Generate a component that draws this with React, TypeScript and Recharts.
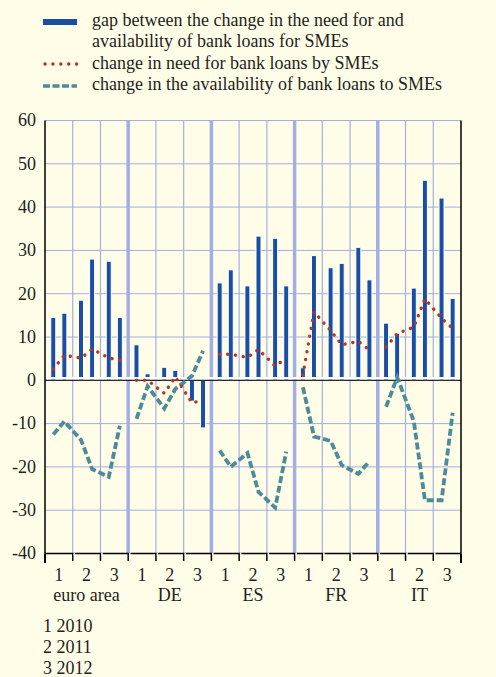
import React from 'react';
import { ComposedChart, Bar, Line, XAxis, YAxis, CartesianGrid, ReferenceLine } from 'recharts';

const groups = ['euro area', 'DE', 'ES', 'FR', 'IT'];
const years = ['1', '2', '3'];
const yTicks = [-40, -30, -20, -10, 0, 10, 20, 30, 40, 50, 60];

// gap between change in need and availability (bars), half-years per group
const gapEuro = [14.5, 15.5, 18.5, 28, 27.5, 14.5];
const gapDE = [8.2, 1.5, 3, 2.3, -4.8, -11];
const gapES = [22.5, 25.5, 21.8, 33.3, 32.8, 21.8];
const gapFR = [2.9, 28.8, 26, 27, 30.7, 23.2];
const gapIT = [13.2, 10.8, 21.3, 46.2, 42.1, 18.9];

// change in need for bank loans by SMEs (dotted)
const needEuro = [2.6, 5.8, 5.1, 7.2, 5.2, 4.6];
const needDE = [0, 0, -3, 0.8, -5.2, -4.6];
const needES = [6, 6, 5.3, 7.1, 3.3, 5.1];
const needFR = [1.2, 15.8, 11.5, 8.2, 9, 7];
const needIT = [7.7, 10.8, 12.3, 18.8, 14.3, 12];

// change in the availability of bank loans to SMEs (dashed)
const availEuro = [-12.5, -9.5, -13.8, -20.5, -22.3, -10.5];
const availDE = [-8.9, -1.4, -6.5, -2, 1, 6.8];
const availES = [-16.2, -20, -16.8, -25.8, -29.4, -16.5];
const availFR = [-1.6, -13, -14, -19.6, -21.6, -18.7];
const availIT = [-6.1, 0.7, -9.5, -27.7, -27.7, -7.5];

const gapAll = [gapEuro, gapDE, gapES, gapFR, gapIT];
const needAll = [needEuro, needDE, needES, needFR, needIT];
const availAll = [availEuro, availDE, availES, availFR, availIT];

// half-year slot within a year (two per year, placed slightly towards the year centre)
const HALF_POS = [0.6, 1.4];

const data: any[] = [];
groups.forEach((_, g) => {
  for (let h = 0; h < 6; h++) {
    const yr = Math.floor(h / 2);
    const row: any = { x: g * 6 + yr * 2 + HALF_POS[h % 2], gap: gapAll[g][h] };
    row['need' + g] = needAll[g][h];
    row['avail' + g] = availAll[g][h];
    data.push(row);
  }
});

const xTicks = Array.from({ length: 31 }, (_, i) => i);
const yearBounds = [2, 4, 6, 8, 10, 12, 14, 16, 18, 20, 22, 24, 26, 28];

const BG = '#FFFDE7';
const GRID = '#A3AEE6';
const BAR = '#1A4EA3';
const RED = '#B2372C';
const TEAL = '#4C8B99';
const TXT = '#231F20';
const FONT = '"Liberation Serif", "Times New Roman", serif';
const FS = 18;
const PLOT_BOTTOM = 553.5;

const LTick = (p: any) => (
  <text x={36} y={p.y} dy={5.8} textAnchor="end" fontFamily={FONT} fontSize={FS} fill={TXT}>
    {p.payload.value}
  </text>
);

const RTick = (p: any) => (
  <text x={p.payload.value < 0 ? 471 : 477} y={p.y} dy={5.8} textAnchor="start" fontFamily={FONT} fontSize={FS} fill={TXT}>
    {p.payload.value}
  </text>
);

const XTick = (p: any) => {
  const v = p.payload.value;
  const x = p.x;
  if (v % 2 === 0) {
    const edge = v === 0 || v === 30;
    return (
      <g>
        <line x1={x} x2={x} y1={PLOT_BOTTOM} y2={edge ? 563 : 561} stroke="#000" strokeWidth={edge ? 2 : 1.5} />
        {!edge && <line x1={x + 1.5} x2={x + 1.5} y1={PLOT_BOTTOM - 1} y2={PLOT_BOTTOM + 1.5} stroke="#fff" strokeWidth={1.5} />}
      </g>
    );
  }
  const yi = ((v - 1) / 2) % 3;
  const g = Math.floor(v / 6);
  return (
    <g>
      <text x={x} y={580.5} textAnchor="middle" fontFamily={FONT} fontSize={FS} fill={TXT}>
        {years[yi]}
      </text>
      {yi === 1 && (
        <text x={x} y={600.5} textAnchor="middle" fontFamily={FONT} fontSize={FS} fill={TXT}>
          {groups[g]}
        </text>
      )}
    </g>
  );
};

const ZeroLine = (p: any) => {
  const y = p.y1 ?? p.y;
  return (
    <g>
      <line x1={p.x1} x2={p.x2} y1={y - 2} y2={y - 2} stroke="#fff" strokeWidth={2.5} />
      <line x1={p.x1} x2={p.x2} y1={y} y2={y} stroke="#000" strokeWidth={1} />
    </g>
  );
};

const legendItems = [
  { kind: 'bar', lines: ['gap between the change in the need for and', 'availability of bank loans for SMEs'] },
  { kind: 'dot', lines: ['change in need for bank loans by SMEs'] },
  { kind: 'dash', lines: ['change in the availability of bank loans to SMEs'] },
];

export default function App() {
  return (
    <div style={{ position: 'absolute', left: 0, top: 0, width: 496, height: 677, background: BG, overflow: 'hidden' }}>
      <svg width={496} height={110} style={{ position: 'absolute', left: 0, top: 0 }}>
        <rect x={43} y={19} width={34} height={6} fill={BAR} />
        <line x1={45} x2={77} y1={64} y2={64} stroke={RED} strokeWidth={3.4} strokeLinecap="round" strokeDasharray="0.1 7.8" />
        <line x1={43} x2={77} y1={86} y2={86} stroke={TEAL} strokeWidth={3.5} strokeDasharray="7 2.5" />
      </svg>
      <div style={{ position: 'absolute', left: 92, top: 10, fontFamily: FONT, fontSize: FS, lineHeight: '21.3px', color: TXT, whiteSpace: 'nowrap' }}>
        {legendItems.map((it, i) => it.lines.map((l, j) => <div key={i + '-' + j}>{l}</div>))}
      </div>
      <div style={{ position: 'absolute', left: 0, top: 0 }}>
        <ComposedChart width={496} height={677} data={data} margin={{ top: 120.5, right: 0, bottom: 63.5, left: 0 }}>
          <CartesianGrid yAxisId="l" vertical={false} stroke={GRID} strokeWidth={1} />
          <XAxis
            dataKey="x"
            type="number"
            domain={[0, 30]}
            ticks={xTicks}
            interval={0}
            tick={<XTick />}
            tickLine={false}
            axisLine={{ stroke: '#000', strokeWidth: 1.5 }}
            height={60}
          />
          <YAxis yAxisId="l" domain={[-40, 60]} ticks={yTicks} width={45} tickLine={false} axisLine={{ stroke: '#000', strokeWidth: 1.5 }} tick={<LTick />} />
          <YAxis yAxisId="r" orientation="right" domain={[-40, 60]} ticks={yTicks} width={35} tickLine={false} axisLine={{ stroke: '#000', strokeWidth: 1.5 }} tick={<RTick />} />
          {yearBounds.map((b) => (
            <ReferenceLine key={'v' + b} yAxisId="l" x={b} stroke={GRID} strokeWidth={b % 6 === 0 ? 3.5 : 1.2} />
          ))}
          <Bar yAxisId="l" dataKey="gap" fill={BAR} stroke="#fff" strokeWidth={1} barSize={5} isAnimationActive={false} />
          <ReferenceLine yAxisId="l" y={0} shape={<ZeroLine />} />
          {groups.map((_, g) => (
            <Line
              key={'a' + g}
              yAxisId="l"
              type="linear"
              dataKey={'avail' + g}
              stroke={TEAL}
              strokeWidth={3.8}
              strokeDasharray="7 3"
              dot={false}
              connectNulls={false}
              isAnimationActive={false}
            />
          ))}
          {groups.map((_, g) => (
            <Line
              key={'n' + g}
              yAxisId="l"
              type="linear"
              dataKey={'need' + g}
              stroke={RED}
              strokeWidth={3.4}
              strokeLinecap="round"
              strokeDasharray="0.1 7.8"
              dot={false}
              connectNulls={false}
              isAnimationActive={false}
            />
          ))}
        </ComposedChart>
      </div>
      <div style={{ position: 'absolute', left: 43, top: 616, fontFamily: FONT, fontSize: FS, lineHeight: '21px', color: TXT, whiteSpace: 'nowrap' }}>
        <div>1 2010</div>
        <div>2 2011</div>
        <div>3 2012</div>
      </div>
    </div>
  );
}
